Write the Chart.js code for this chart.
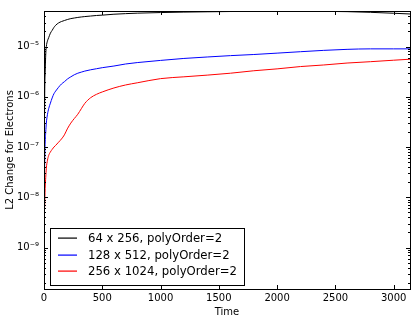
<!DOCTYPE html>
<html>
<head>
<meta charset="utf-8">
<script src="https://cdn.jsdelivr.net/npm/chart.js@4"></script>
<style>
html, body { margin: 0; padding: 0; background: #fff; }
#wrap { width: 415px; height: 322px; }
</style>
</head>
<body>
<div id="wrap"><canvas id="chart" width="415" height="322"></canvas></div>
<script>
// values
const time = [0, 3, 6, 10, 15, 20, 30, 40, 55, 70, 85, 100, 125, 150, 175, 200, 230, 260, 290, 320, 350, 400, 450, 500, 600, 700, 800, 1000, 1200, 1400, 1600, 1800, 2000, 2200, 2400, 2600, 2800, 3000, 3140];
const res64 = [1e-11, 5e-8, 1e-6, 3e-6, 7e-6, 1.0e-5, 1.3e-5, 1.5e-5, 1.85e-5, 2.1e-5, 2.4e-5, 2.65e-5, 2.95e-5, 3.15e-5, 3.3e-5, 3.45e-5, 3.6e-5, 3.7e-5, 3.8e-5, 3.88e-5, 3.95e-5, 4.05e-5, 4.15e-5, 4.22e-5, 4.4e-5, 4.52e-5, 4.62e-5, 4.75e-5, 4.85e-5, 4.92e-5, 4.98e-5, 5.02e-5, 5.04e-5, 5.04e-5, 5.02e-5, 4.95e-5, 4.8e-5, 4.6e-5, 4.45e-5];
const res128 = [1e-11, 1e-8, 5e-8, 1.2e-7, 2e-7, 3e-7, 4.5e-7, 5.8e-7, 7.5e-7, 9.5e-7, 1.15e-6, 1.3e-6, 1.55e-6, 1.8e-6, 2.0e-6, 2.25e-6, 2.5e-6, 2.75e-6, 2.95e-6, 3.1e-6, 3.25e-6, 3.45e-6, 3.62e-6, 3.8e-6, 4.1e-6, 4.5e-6, 4.8e-6, 5.3e-6, 5.8e-6, 6.2e-6, 6.6e-6, 6.95e-6, 7.4e-6, 7.9e-6, 8.4e-6, 8.8e-6, 9.0e-6, 9.0e-6, 9.0e-6];
const res256 = [1e-11, 3e-9, 7e-9, 1.5e-8, 2.5e-8, 3.8e-8, 5.5e-8, 6.8e-8, 8e-8, 9e-8, 1e-7, 1.08e-7, 1.25e-7, 1.45e-7, 1.75e-7, 2.3e-7, 3.0e-7, 3.7e-7, 4.5e-7, 5.8e-7, 7.4e-7, 9.6e-7, 1.12e-6, 1.25e-6, 1.5e-6, 1.72e-6, 1.9e-6, 2.3e-6, 2.5e-6, 2.7e-6, 2.95e-6, 3.3e-6, 3.6e-6, 4.0e-6, 4.3e-6, 4.7e-6, 5.0e-6, 5.35e-6, 5.6e-6];

const seriesLabels = ['64 x 256, polyOrder=2', '128 x 512, polyOrder=2', '256 x 1024, polyOrder=2'];
const seriesColors = ['#000000', '#0000ff', '#ff0000'];
const xTicks = [0, 500, 1000, 1500, 2000, 2500, 3000];
const yDecades = [-10, -9, -8, -7, -6, -5];

const FONT = 'DejaVu Sans';
const SUP = { '-': '\u207b', '0': '\u2070', '1': '\u00b9', '2': '\u00b2', '3': '\u00b3', '4': '\u2074', '5': '\u2075', '6': '\u2076', '7': '\u2077', '8': '\u2078', '9': '\u2079' };
const sup = (s) => String(s).split('').map((ch) => SUP[ch] || ch).join('');

// inward ticks on all four sides, box, and legend inside the axes
const framePlugin = {
	id: 'frame',
	afterDraw(chart) {
		const { ctx, chartArea: a, scales } = chart;
		ctx.save();
		ctx.strokeStyle = '#000';
		ctx.lineWidth = 1;
		ctx.beginPath();
		scales.x.ticks.forEach((t) => {
			const px = Math.round(scales.x.getPixelForValue(t.value)) + 0.5;
			ctx.moveTo(px, a.bottom); ctx.lineTo(px, a.bottom - 4);
			ctx.moveTo(px, a.top); ctx.lineTo(px, a.top + 4);
		});
		scales.y.ticks.forEach((t) => {
			const py = Math.round(scales.y.getPixelForValue(t.value)) + 0.5;
			const len = t.major ? 4 : 2;
			ctx.moveTo(a.left, py); ctx.lineTo(a.left + len, py);
			ctx.moveTo(a.right, py); ctx.lineTo(a.right - len, py);
		});
		ctx.stroke();
		ctx.strokeRect(Math.round(a.left) + 0.5, Math.round(a.top) + 0.5, Math.round(a.right - a.left), Math.round(a.bottom - a.top));

		// legend
		const lx = 50.5, ly = 228.5, lw = 194, lh = 57;
		ctx.fillStyle = '#fff';
		ctx.fillRect(lx, ly, lw, lh);
		ctx.strokeStyle = '#000';
		ctx.strokeRect(lx, ly, lw, lh);
		ctx.font = '11.7px "' + FONT + '"';
		ctx.textBaseline = 'middle';
		ctx.textAlign = 'left';
		seriesLabels.forEach((label, i) => {
			const y = Math.round(238 + i * 16.7);
			ctx.fillStyle = seriesColors[i];
			ctx.fillRect(58, y - 0.5, 19, 1.2);
			ctx.fillStyle = '#000';
			ctx.fillText(label, 88, y + 0.5);
		});
		ctx.restore();
	}
};

const series = [res64, res128, res256];

new Chart(document.getElementById('chart'), {
	type: 'line',
	data: {
		datasets: series.map((vals, i) => ({
			label: seriesLabels[i],
			data: vals.map((v, j) => ({ x: time[j], y: v })),
			borderColor: seriesColors[i],
			borderWidth: 1,
			pointRadius: 0,
			fill: false,
			cubicInterpolationMode: 'monotone'
		}))
	},
	options: {
		responsive: false,
		animation: false,
		devicePixelRatio: 1,
		layout: { padding: { top: 6, right: 5, left: 0, bottom: 0 } },
		plugins: { legend: { display: false }, tooltip: { enabled: false } },
		scales: {
			x: {
				type: 'linear',
				min: 0,
				max: 3140,
				grid: { display: false, drawTicks: false },
				border: { display: false },
				afterBuildTicks: (s) => { s.ticks = xTicks.map((v) => ({ value: v })); },
				afterFit: (s) => { s.height = 33; },
				ticks: { color: '#000', padding: 3, maxRotation: 0, font: { family: FONT, size: 10 }, callback: (v) => String(v) },
				title: { display: true, text: 'Time', color: '#000', font: { family: FONT, size: 10 } }
			},
			y: {
				type: 'logarithmic',
				min: 1.5e-10,
				max: 5.1e-5,
				grid: { display: false, drawTicks: false },
				border: { display: false },
				afterBuildTicks: (s) => {
					const ticks = [];
					yDecades.forEach((e) => {
						for (let m = 1; m <= 9; m++) {
							const v = m * Math.pow(10, e);
							if (v >= s.min && v <= s.max) ticks.push({ value: v, major: m === 1, exp: e });
						}
					});
					s.ticks = ticks;
				},
				afterFit: (s) => { s.width = 44; },
				ticks: {
					color: '#000',
					padding: 5,
					autoSkip: false,
					font: { family: FONT, size: 10 },
					callback: function (v, i, ticks) {
						const t = ticks[i];
						return t.major ? '10' + sup(t.exp) : '';
					}
				},
				title: { display: true, text: 'L2 Change for Electrons', color: '#000', font: { family: FONT, size: 10 } }
			}
		}
	},
	plugins: [framePlugin]
});
</script>
</body>
</html>
